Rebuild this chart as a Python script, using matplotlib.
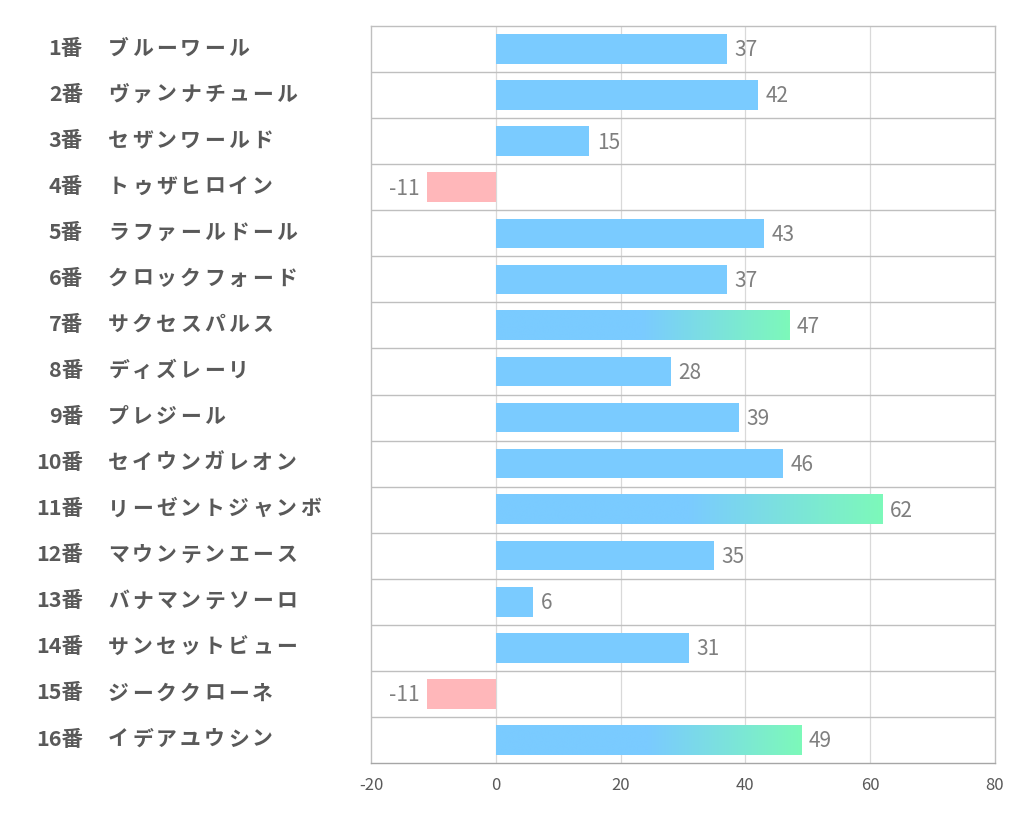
import numpy as np
import matplotlib.pyplot as plt
from matplotlib.colors import to_rgb
from matplotlib.transforms import blended_transform_factory

plt.rcParams['font.family'] = ['Noto Sans CJK JP', 'DejaVu Sans']

numbers = ["1番", "2番", "3番", "4番", "5番", "6番", "7番", "8番",
           "9番", "10番", "11番", "12番", "13番", "14番", "15番", "16番"]
names = ["ブルーワール", "ヴァンナチュール", "セザンワールド", "トゥザヒロイン",
         "ラファールドール", "クロックフォード", "サクセスパルス", "ディズレーリ",
         "プレジール", "セイウンガレオン", "リーゼントジャンボ", "マウンテンエース",
         "バナマンテソーロ", "サンセットビュー", "ジーククローネ", "イデアユウシン"]
values = [37, 42, 15, -11, 43, 37, 47, 28, 39, 46, 62, 35, 6, 31, -11, 49]
ticks = [-20, 0, 20, 40, 60, 80]

blue = "#7ACBFF"
green = "#7DF9BA"
pink = "#FFB7BA"
bar_h = 0.64
W, H = 1022, 834

fig = plt.figure(figsize=(W / 100, H / 100), dpi=100)
ax = fig.add_axes([371 / W, 1 - 763 / H, 624 / W, 737 / H])

for i, v in enumerate(values):
    if v < 0:
        ax.barh(i, v, height=bar_h, color=pink, zorder=2)
    elif v > 46:
        # gradient bar: plain blue for first half, fading into green
        t = np.linspace(0, 1, 256)
        f = np.clip((t - 0.5) / 0.5, 0, 1)
        c0, c1 = np.array(to_rgb(blue)), np.array(to_rgb(green))
        img = (c0[None, :] * (1 - f[:, None]) + c1[None, :] * f[:, None])[None, :, :]
        ax.imshow(img, extent=[0, v, i + bar_h / 2, i - bar_h / 2],
                  aspect='auto', interpolation='bilinear', zorder=2)
    else:
        ax.barh(i, v, height=bar_h, color=blue, zorder=2)
    if v < 0:
        ax.text(v - 1.2, i + 0.03, str(v), ha='right', va='center',
                fontsize=15, color='#7f7f7f', zorder=3)
    else:
        ax.text(v + 1.2, i + 0.03, str(v), ha='left', va='center',
                fontsize=15, color='#7f7f7f', zorder=3)

ax.set_xlim(-20, 80)
ax.set_ylim(len(values) - 0.5, -0.5)
ax.set_xticks(ticks)
ax.set_xticklabels([str(t) for t in ticks], fontsize=12, color='#595959')
ax.tick_params(axis='x', length=0, pad=10)
ax.set_yticks([])

for x in [0, 20, 40, 60]:
    ax.axvline(x, color='#d9d9d9', lw=0.9, zorder=1)
for k in range(len(values) - 1):
    ax.axhline(k + 0.5, color='#bfbfbf', lw=1.0, zorder=1)

for s in ['left', 'right', 'top']:
    ax.spines[s].set_color('#bfbfbf')
    ax.spines[s].set_linewidth(1.0)
ax.spines['bottom'].set_color('#a6a6a6')
ax.spines['bottom'].set_linewidth(1.0)

# row labels, names drawn with wide letter spacing like the original
tr = blended_transform_factory(fig.transFigure, ax.transData)
pitch = 24
for i in range(len(values)):
    ax.text(83 / W, i - 0.02, numbers[i], transform=tr, ha='right', va='center',
            fontsize=15.5, fontweight='bold', color='#595959')
    for j, ch in enumerate(names[i]):
        ax.text((108 + j * pitch) / W, i - 0.02, ch, transform=tr, ha='left',
                va='center', fontsize=15, fontweight='bold', color='#595959')

fig.savefig("out.png", dpi=100)
